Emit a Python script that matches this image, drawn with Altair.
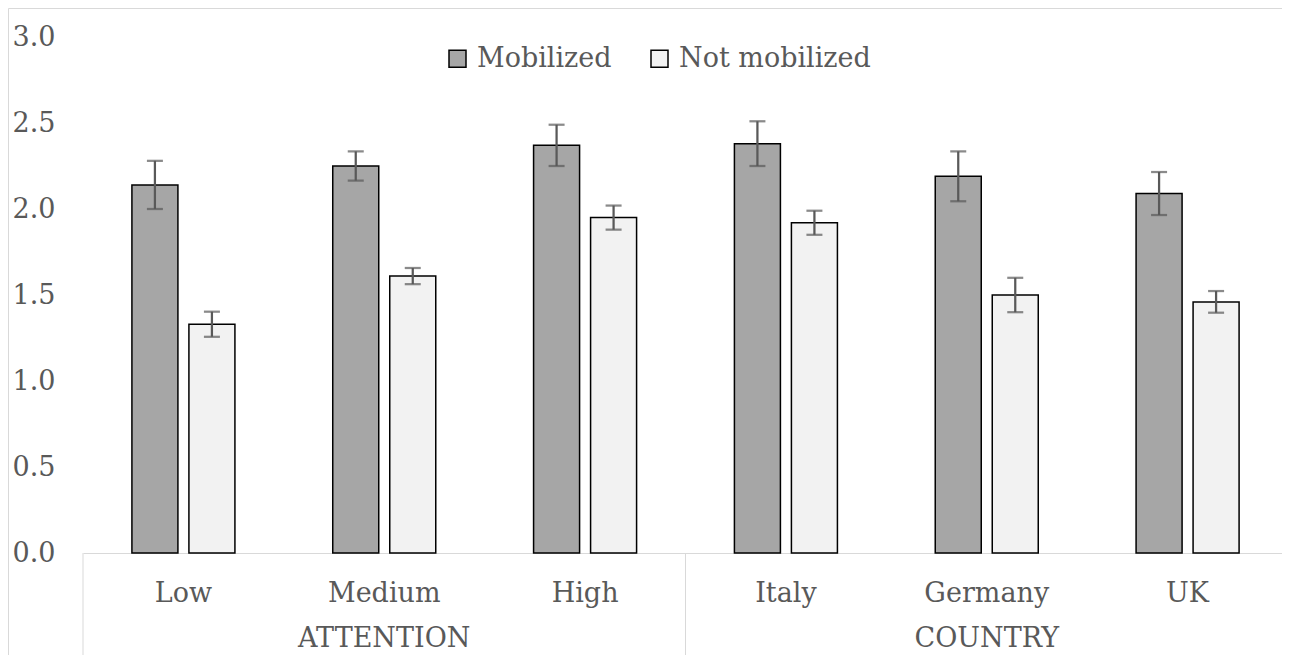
import altair as alt
import pandas as pd

categories = ["Low", "Medium", "High", "Italy", "Germany", "UK"]
groups = ["ATTENTION", "ATTENTION", "ATTENTION", "COUNTRY", "COUNTRY", "COUNTRY"]
series = ["Mobilized", "Not mobilized"]
mobilized = [2.14, 2.25, 2.37, 2.38, 2.19, 2.09]
mobilized_err = [0.14, 0.085, 0.12, 0.13, 0.145, 0.125]
not_mobilized = [1.33, 1.61, 1.95, 1.92, 1.50, 1.46]
not_mobilized_err = [0.073, 0.047, 0.07, 0.07, 0.10, 0.063]
y_ticks = [0.0, 0.5, 1.0, 1.5, 2.0, 2.5, 3.0]
colors = ["#A6A6A6", "#F2F2F2"]

FONT = "DejaVu Serif"
FS = 27
TXT = "#595959"
LINE = "#D9D9D9"

rows = []
for c, g, m, me, n, ne in zip(categories, groups, mobilized, mobilized_err,
                              not_mobilized, not_mobilized_err):
    rows.append({"cat": c, "group": g, "series": series[0], "value": m,
                 "lo": m - me, "hi": m + me})
    rows.append({"cat": c, "group": g, "series": series[1], "value": n,
                 "lo": n - ne, "hi": n + ne})
df = pd.DataFrame(rows)

# group labels centred on the middle category of each group
group_names = list(dict.fromkeys(groups))
grp_rows = []
for gname in group_names:
    members = [c for c, g in zip(categories, groups) if g == gname]
    grp_rows.append({"cat": members[len(members) // 2], "label": gname,
                     "first": members[0], "last": members[-1]})
grp_df = pd.DataFrame(grp_rows)
left_edges = pd.DataFrame({"cat": [r["first"] for r in grp_rows]})
right_edge = pd.DataFrame({"cat": [grp_rows[-1]["last"]]})

PLOT_W = 1191
PLOT_H = 516
BOTTOM = 102

x_axis = alt.Axis(title=None, labelAngle=0)
x_scale = alt.Scale(domain=categories, paddingInner=0, paddingOuter=0,
                    range=[0, 1205])
y_axis = alt.Axis(title=None, values=y_ticks, format=".1f")
y_scale = alt.Scale(domain=[0, 3], nice=False)


def X(**kw):
    return alt.X("cat:N", sort=categories, scale=x_scale, axis=x_axis, **kw)


xoff = alt.XOffset("series:N", sort=series,
                   scale=alt.Scale(domain=series, paddingInner=0.193,
                                   paddingOuter=0.858))

one = pd.DataFrame({"k": [0]})
border_top = alt.Chart(one).mark_rule(color=LINE, strokeWidth=1).encode(
    x=alt.value(-74.5), x2=alt.value(1215), y=alt.value(-28.5))
border_left = alt.Chart(one).mark_rule(color=LINE, strokeWidth=1).encode(
    x=alt.value(-74.5), y=alt.value(-28.5), y2=alt.value(PLOT_H + BOTTOM))

box_left = alt.Chart(left_edges).mark_rule(color=LINE, strokeWidth=1).encode(
    x=X(bandPosition=0), y=alt.value(PLOT_H), y2=alt.value(PLOT_H + BOTTOM))
box_right = alt.Chart(right_edge).mark_rule(color=LINE, strokeWidth=1).encode(
    x=X(bandPosition=1), y=alt.value(PLOT_H), y2=alt.value(PLOT_H + BOTTOM))

bars = alt.Chart(df).mark_bar(stroke="black", strokeWidth=1.5).encode(
    x=X(),
    xOffset=xoff,
    y=alt.Y("value:Q", scale=y_scale, axis=y_axis),
    color=alt.Color("series:N", sort=series,
                    scale=alt.Scale(domain=series, range=colors),
                    legend=alt.Legend(title=None, orient="none",
                                      direction="horizontal",
                                      legendX=361, legendY=8,
                                      symbolType="square", symbolSize=289,
                                      symbolStrokeColor="black",
                                      symbolStrokeWidth=1.5,
                                      labelFont=FONT, labelFontSize=FS,
                                      labelColor=TXT, labelOffset=6,
                                      labelLimit=0,
                                      columnPadding=34)),
)

err = alt.Chart(df).mark_rule(color=TXT, strokeWidth=2.25).encode(
    x=X(), xOffset=xoff,
    y=alt.Y("lo:Q", scale=y_scale, axis=y_axis), y2="hi:Q")

caps = alt.Chart(df).transform_fold(["lo", "hi"], as_=["end", "yv"]).mark_tick(
    color=TXT, thickness=2.25, size=16).encode(
    x=X(), xOffset=xoff,
    y=alt.Y("yv:Q", scale=y_scale, axis=y_axis))

grp_text = alt.Chart(grp_df).mark_text(
    font=FONT, fontSize=FS, color=TXT, baseline="alphabetic", align="center"
).encode(x=X(), y=alt.value(PLOT_H + BOTTOM - 8), text="label:N")

chart = alt.layer(border_top, border_left, box_left, box_right, bars, err, caps,
                  grp_text).properties(
    width=PLOT_W, height=PLOT_H,
    padding={"left": 75, "top": 29, "right": 8, "bottom": BOTTOM},
    autosize=alt.AutoSizeParams(type="none"),
    background="white",
).configure_view(stroke=None).configure_axisX(
    domainColor=LINE, domainWidth=1, ticks=False, tickSize=0, grid=False,
    labelFont=FONT, labelFontSize=FS, labelColor=TXT,
    labelBaseline="alphabetic", labelPadding=48,
).configure_axisY(
    domain=False, ticks=False, tickSize=0, grid=False,
    labelFont=FONT, labelFontSize=FS, labelColor=TXT,
    labelAlign="left", labelBaseline="middle", labelPadding=71,
)

chart.save("out.html", embed_options={"renderer": "svg", "actions": False})
